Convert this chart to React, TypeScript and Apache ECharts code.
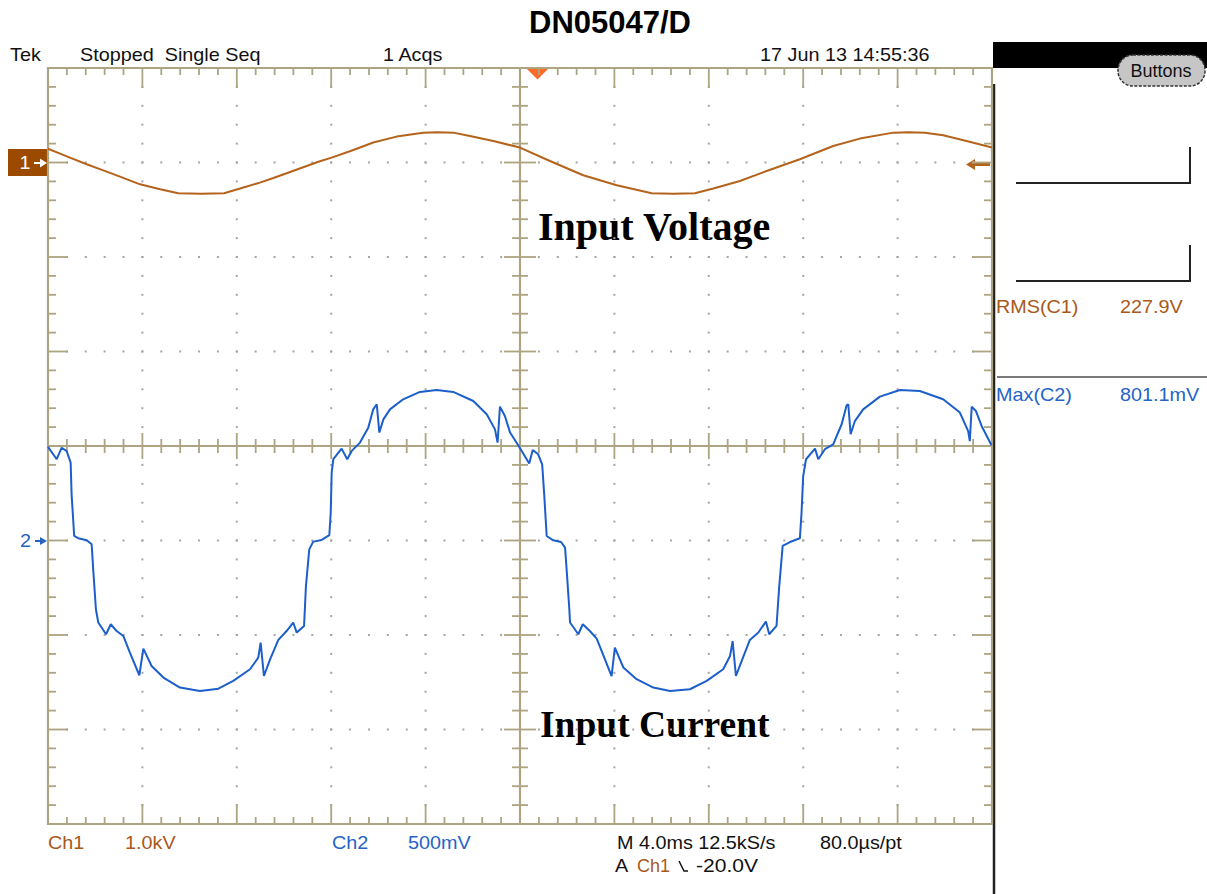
import React, { useEffect, useRef } from "react";
import * as echarts from "echarts";

// ---- Channel 1 (input voltage), time in ms, value in volts ----
const ch1TimeMs = [0, 0.51, 0.93, 1.64, 2.34, 3.05, 3.9, 4.75, 5.52, 6.48, 7.46, 8.14, 8.98, 9.55, 10.11, 10.96, 11.52, 12.02, 12.94, 13.78, 14.77, 15.9, 16.52, 17.17, 17.88, 18.87, 20.0, 21.27, 22.68, 24.1, 25.58, 26.48, 27.41, 28.19, 29.32, 30.45, 31.86, 33.27, 34.4, 35.82, 36.48, 37.16, 37.93, 38.92, 40.0];
const ch1Volts = [145, 94, 52, -19, -83, -149, -231, -284, -326, -331, -326, -276, -213, -164, -114, -37, 13, 52, 132, 211, 274, 316, 320, 316, 280, 227, 158, 16, -135, -241, -326, -331, -326, -276, -196, -90, 34, 175, 253, 316, 320, 316, 288, 227, 158];

// ---- Channel 2 (input current probe), time in ms, value in mV ----
const ch2TimeMs = [
  0, 0.37, 0.58, 0.79, 0.96, 1.0, 1.11, 1.28, 1.64, 1.85,
  1.92, 2.03, 2.13, 2.46, 2.66, 2.91, 3.19, 3.47, 3.87, 4.04,
  4.39, 4.89, 5.59, 6.44, 7.22, 7.85, 8.56, 8.91, 9.01, 9.15,
  9.41, 9.76, 10.11, 10.39, 10.54, 10.85, 10.93, 11.07, 11.24, 11.6,
  11.92, 11.98, 12.02, 12.09, 12.44, 12.68, 12.87, 13.22, 13.57, 13.78,
  13.93, 14.04, 14.21, 14.49, 15.05, 15.76, 16.47, 17.17, 18.02, 18.59,
  18.94, 19.05, 19.15, 19.36, 19.58, 19.97,
  20.39, 20.54, 20.77, 20.94, 21.03, 21.13, 21.41, 21.74, 21.91, 21.98,
  22.09, 22.12, 22.47, 22.66, 22.96, 23.25, 23.6, 23.88, 24.02, 24.38,
  24.94, 25.65, 26.36, 27.2, 27.91, 28.61, 28.9, 29.01, 29.15, 29.39,
  29.74, 30.1, 30.42, 30.56, 30.87, 30.98, 31.13, 31.44, 31.86, 31.93,
  32.0, 32.12, 32.5, 32.64, 32.92, 33.27, 33.63, 33.84, 33.91, 34.01,
  34.19, 34.54, 35.25, 36.1, 36.94, 37.93, 38.64, 38.99, 39.06, 39.14,
  39.32, 39.56, 39.98,
];
const ch2MilliVolts = [
  495, 430, 491, 473, 412, 244, 24, 12, 1, -20,
  -161, -364, -434, -496, -443, -479, -505, -593, -713, -572,
  -664, -725, -778, -796, -784, -743, -681, -620, -540, -717,
  -629, -526, -479, -434, -487, -452, -241, -47, -6, 3,
  28, 148, 359, 430, 486, 430, 474, 518, 597, 694,
  721, 571, 641, 694, 747, 786, 796, 786, 738, 668,
  588, 518, 708, 659, 571, 495,
  407, 479, 456, 403, 235, 24, 1, -8, -38, -161,
  -364, -434, -496, -443, -479, -519, -629, -717, -567, -672,
  -734, -778, -796, -787, -743, -681, -611, -532, -717, -638,
  -526, -487, -429, -496, -452, -249, -29, -8, 12, 148,
  341, 430, 486, 430, 483, 509, 615, 715, 721, 562,
  632, 694, 761, 796, 791, 747, 677, 579, 526, 708,
  685, 606, 504,
];

// ---- Scope settings ----
const MS_PER_DIV = 4;
const H_DIVS = 10;
const V_DIVS = 8;
const CH1_VOLTS_PER_DIV = 1000;
const CH1_POSITION_DIV = 3;
const CH2_MV_PER_DIV = 500;
const CH2_POSITION_DIV = -1;

const headerLabels = ["Tek", "Stopped  Single Seq", "1 Acqs", "17 Jun 13 14:55:36"];
const footerLabels = ["Ch1", "1.0kV", "Ch2", "500mV", "M 4.0ms 12.5kS/s", "80.0µs/pt", "A", "Ch1", "-20.0V"];
const measureLabels = ["RMS(C1)", "227.9V", "Max(C2)", "801.1mV"];

const BROWN = "#b4631c";
const BROWN_TEXT = "#a9581a";
const BLUE = "#1c5fcb";
const BLUE_TEXT = "#2563c6";
const TAN = "#ada482";
const DOT = "#a4a4a4";
const FONT = "'Liberation Sans', Arial, sans-serif";
const SERIF = "'Liberation Serif', 'Times New Roman', serif";

function renderGraticule(_params: any, api: any) {
  const children: any[] = [];
  const tMax = H_DIVS * MS_PER_DIV;
  const dTop = V_DIVS / 2;
  const P = (t: number, d: number) => api.coord([t, d]);
  const [x0, y0] = P(0, dTop);
  const [x1, y1] = P(tMax, -dTop);
  const [xc, yc] = P(tMax / 2, 0);
  const line = (ax: number, ay: number, bx: number, by: number, w = 1.8) => ({
    type: "line",
    shape: { x1: ax, y1: ay, x2: bx, y2: by },
    style: { stroke: TAN, lineWidth: w },
  });
  const dot = (px: number, py: number) => ({
    type: "rect",
    shape: { x: px - 1, y: py - 1, width: 2, height: 2 },
    style: { fill: DOT },
  });
  for (let i = 1; i < H_DIVS; i++) {
    if (i === H_DIVS / 2) continue;
    for (let k = 1; k < V_DIVS * 5; k++) {
      const [px, py] = P(i * MS_PER_DIV, -dTop + k * 0.2);
      children.push(dot(px, py));
    }
  }
  for (let j = -dTop + 1; j < dTop; j++) {
    if (j === 0) continue;
    for (let k = 1; k < H_DIVS * 5; k++) {
      const [px, py] = P(k * 0.2 * MS_PER_DIV, j);
      children.push(dot(px, py));
    }
  }
  for (let k = 1; k < H_DIVS * 5; k++) {
    const major = k % 5 === 0;
    const [px] = P(k * 0.2 * MS_PER_DIV, 0);
    const len = major ? 20 : 7;
    children.push(line(px, y0, px, y0 + len));
    children.push(line(px, y1, px, y1 - len));
    if (k !== (H_DIVS * 5) / 2) {
      const c = major ? 13 : 7;
      children.push(line(px, yc - c, px, yc + c));
    }
  }
  for (let k = 1; k < V_DIVS * 5; k++) {
    const major = k % 5 === 0;
    const [, py] = P(0, -dTop + k * 0.2);
    const len = major ? 20 : 8;
    children.push(line(x0, py, x0 + len, py));
    children.push(line(x1, py, x1 - len, py));
    if (k !== (V_DIVS * 5) / 2) {
      const c = major ? 16 : 8;
      children.push(line(xc - c, py, xc + c, py));
    }
  }
  children.push(line(xc, y0, xc, y1, 2.2));
  children.push(line(x0, yc, x1, yc, 2.2));
  children.push({
    type: "rect",
    shape: { x: x0, y: y0, width: x1 - x0, height: y1 - y0 },
    style: { fill: "none", stroke: TAN, lineWidth: 2.2 },
  });
  return { type: "group", children };
}

function txt(
  text: string,
  x: number,
  y: number,
  fill: string,
  size = 18,
  align = "left",
  font = FONT,
  weight = "normal",
  scaleX = 1.1
) {
  return {
    type: "text",
    x,
    y,
    scaleX,
    silent: true,
    style: {
      text,
      fill,
      font: `${weight} ${size}px ${font}`,
      align,
      verticalAlign: "middle",
      textAlign: align,
      textVerticalAlign: "middle",
    },
  };
}

function buildOption() {
  const ch1Data = ch1TimeMs.map((t, i) => [t, ch1Volts[i] / CH1_VOLTS_PER_DIV + CH1_POSITION_DIV]);
  const ch2Data = ch2TimeMs.map((t, i) => [t, ch2MilliVolts[i] / CH2_MV_PER_DIV + CH2_POSITION_DIV]);

  const graphics: any[] = [
    txt("DN05047/D", 610, 22, "#000", 31, "center", FONT, "bold", 1),
    txt(headerLabels[0], 10, 55, "#111"),
    txt(headerLabels[1], 80, 55, "#111"),
    txt(headerLabels[2], 383, 55, "#111"),
    txt(headerLabels[3], 760, 55, "#111"),
    txt(footerLabels[0], 48, 843, BROWN_TEXT),
    txt(footerLabels[1], 125, 843, BROWN_TEXT),
    txt(footerLabels[2], 332, 843, BLUE_TEXT),
    txt(footerLabels[3], 408, 843, BLUE_TEXT),
    txt(footerLabels[4], 617, 843, "#111"),
    txt(footerLabels[5], 820, 843, "#111"),
    txt(footerLabels[6], 615, 866, "#111"),
    txt(footerLabels[7], 637, 866, BROWN_TEXT, 18, "left", FONT, "normal", 1),
    {
      type: "polyline",
      shape: { points: [[679, 861], [684, 871], [688, 871]] },
      style: { stroke: "#111", lineWidth: 1.5, fill: "none" },
    },
    txt(footerLabels[8], 696, 866, "#111", 18, "left", FONT, "normal", 1.17),
    txt("Input Voltage", 538, 226, "#000", 40, "left", SERIF, "bold", 1),
    txt("Input Current", 540, 724, "#000", 37.5, "left", SERIF, "bold", 1),
    { type: "rect", shape: { x: 8, y: 149, width: 40, height: 27 }, style: { fill: "#9c4a00" } },
    txt("1", 25, 163, "#fff", 18, "center"),
    { type: "line", shape: { x1: 34, y1: 163, x2: 42, y2: 163 }, style: { stroke: "#fff", lineWidth: 2 } },
    { type: "polygon", shape: { points: [[40, 158.5], [47, 163], [40, 167.5]] }, style: { fill: "#fff" } },
    txt("2", 20, 541, BLUE_TEXT, 18),
    { type: "line", shape: { x1: 35, y1: 541, x2: 42, y2: 541 }, style: { stroke: BLUE_TEXT, lineWidth: 2 } },
    { type: "polygon", shape: { points: [[40, 537], [47, 541], [40, 545]] }, style: { fill: BLUE_TEXT } },
    { type: "line", shape: { x1: 972, y1: 164.5, x2: 990, y2: 164.5 }, style: { stroke: BROWN, lineWidth: 3 } },
    { type: "polygon", shape: { points: [[966, 164.5], [975, 159], [975, 170]] }, style: { fill: BROWN } },
    { type: "polygon", shape: { points: [[527, 69], [548, 69], [537.5, 79.5]] }, style: { fill: "#ff6a28" } },
    { type: "rect", shape: { x: 993, y: 42, width: 214, height: 26 }, style: { fill: "#000" } },
    { type: "line", shape: { x1: 994, y1: 84, x2: 994, y2: 894 }, style: { stroke: "#222", lineWidth: 2.5 } },
    {
      type: "rect",
      shape: { x: 1118, y: 55, width: 87, height: 31, r: 15 },
      style: { fill: "#c6c6c6", stroke: "#333", lineWidth: 1.5, lineDash: [3, 1.5] },
    },
    txt("Buttons", 1161, 71, "#111", 18, "center", FONT, "normal", 1),
    {
      type: "polyline",
      shape: { points: [[1016, 183], [1190, 183], [1190, 147]] },
      style: { stroke: "#222", lineWidth: 2, fill: "none" },
    },
    {
      type: "polyline",
      shape: { points: [[1016, 281], [1190, 281], [1190, 245]] },
      style: { stroke: "#222", lineWidth: 2, fill: "none" },
    },
    txt(measureLabels[0], 996, 307, BROWN_TEXT),
    txt(measureLabels[1], 1120, 307, BROWN_TEXT),
    { type: "line", shape: { x1: 997, y1: 377, x2: 1207, y2: 377 }, style: { stroke: "#7a7a7a", lineWidth: 2 } },
    txt(measureLabels[2], 996, 395, BLUE_TEXT),
    txt(measureLabels[3], 1120, 395, BLUE_TEXT),
  ];

  return {
    animation: false,
    backgroundColor: "#ffffff",
    grid: { left: 48, top: 68, right: 215, bottom: 70, containLabel: false },
    xAxis: { type: "value", min: 0, max: H_DIVS * MS_PER_DIV, interval: MS_PER_DIV, show: false },
    yAxis: { type: "value", min: -V_DIVS / 2, max: V_DIVS / 2, interval: 1, show: false },
    graphic: graphics,
    series: [
      {
        type: "custom",
        name: "graticule",
        silent: true,
        clip: false,
        z: 1,
        renderItem: renderGraticule,
        data: [[0, 0]],
      },
      {
        type: "line",
        name: "Ch1",
        z: 3,
        data: ch1Data,
        showSymbol: false,
        lineStyle: { color: BROWN, width: 2 },
        itemStyle: { color: BROWN },
        silent: true,
      },
      {
        type: "line",
        name: "Ch2",
        z: 3,
        data: ch2Data,
        showSymbol: false,
        lineStyle: { color: BLUE, width: 2 },
        itemStyle: { color: BLUE },
        silent: true,
      },
    ],
  };
}

export default function App() {
  const ref = useRef<HTMLDivElement>(null);
  useEffect(() => {
    if (!ref.current) return;
    const chart = echarts.init(ref.current, null, { renderer: "svg" });
    chart.setOption(buildOption() as any);
    return () => chart.dispose();
  }, []);
  return (
    <div
      ref={ref}
      style={{ position: "absolute", left: 0, top: 0, width: 1207, height: 894, background: "#fff" }}
    />
  );
}
